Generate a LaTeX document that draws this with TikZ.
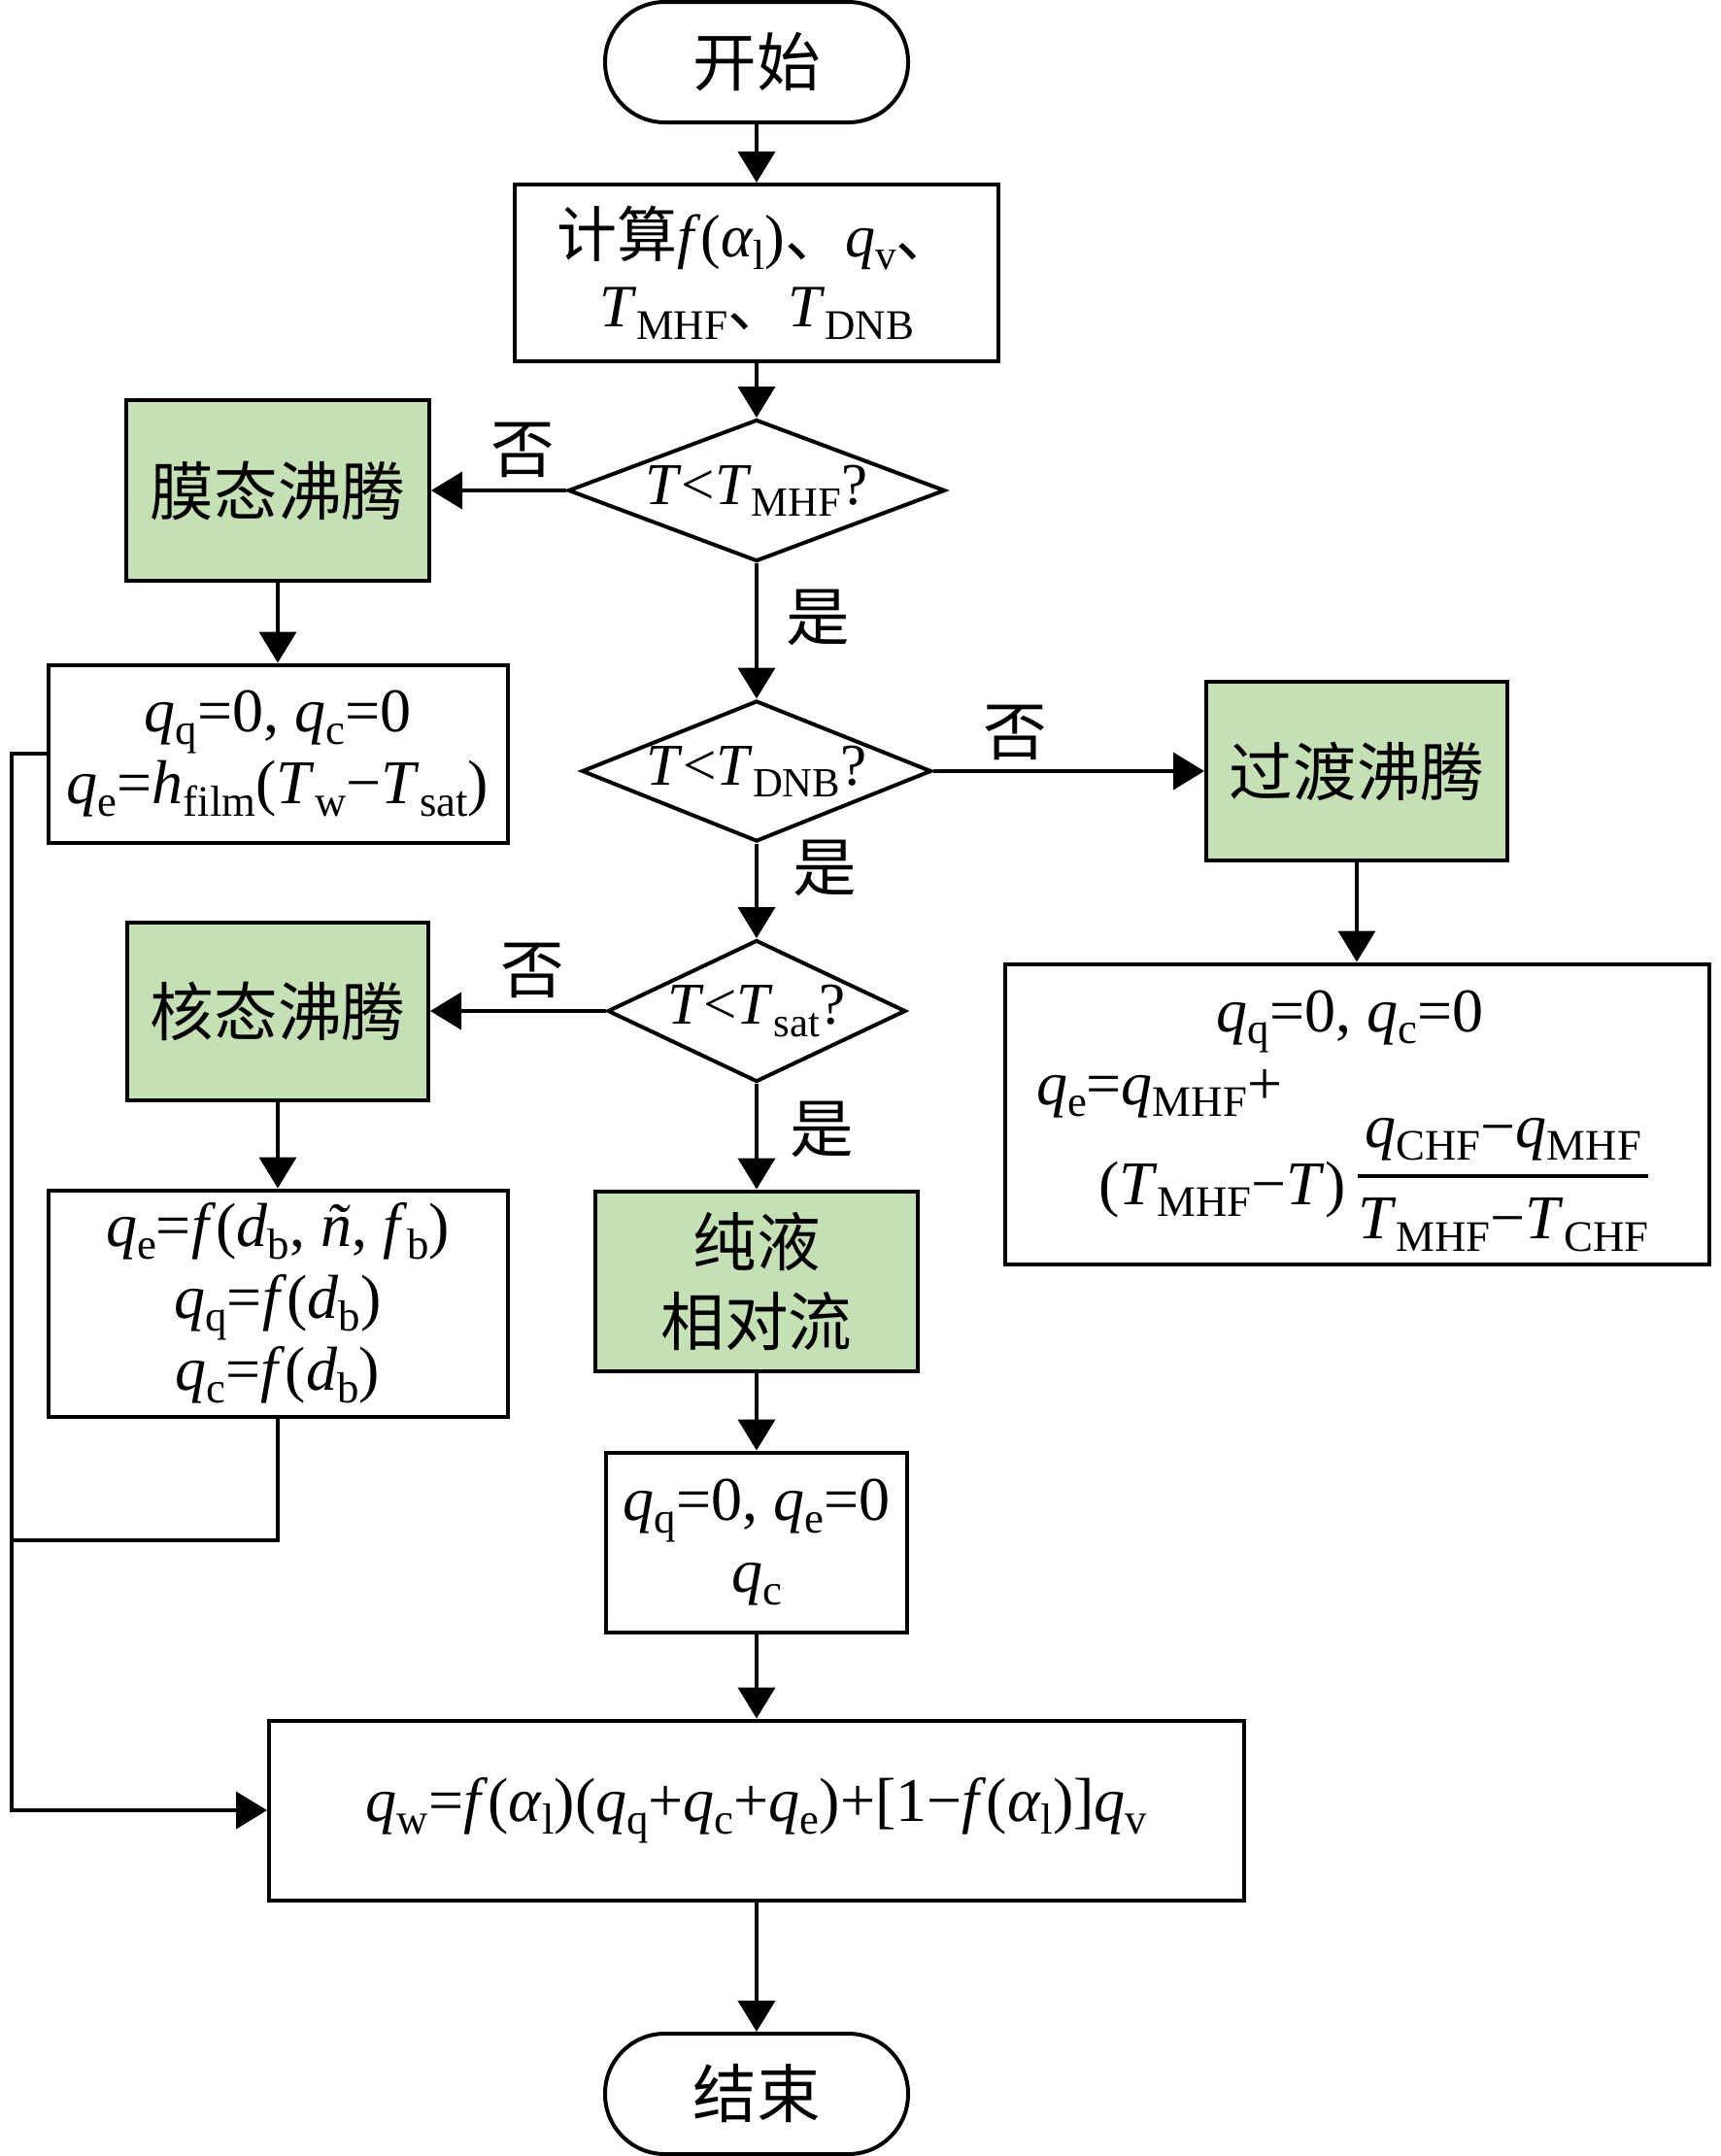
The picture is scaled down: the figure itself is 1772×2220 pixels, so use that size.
\documentclass[tikz,border=0pt]{standalone}
\usepackage{amsmath}
\usepackage{graphicx}
\usepackage{fontspec}
\setmainfont{Liberation Serif}
\newfontfamily\cjk{Noto Sans CJK SC}
\usetikzlibrary{shapes.geometric,arrows.meta}
\definecolor{boilgreen}{HTML}{C5E0B4}
\newcommand\vi[1]{\textit{#1}}
\newcommand\sbs[1]{\raisebox{-0.2em}{\scalebox{0.7}{#1}}}
\begin{document}
\begin{tikzpicture}[x=0.25pt,y=-0.25pt,line width=1pt,
  box/.style={draw,line width=1pt,inner sep=0pt,align=center},
  gbox/.style={box,fill=boilgreen,font=\cjk\fontsize{16.4}{20.5}\selectfont},
  term/.style={draw,line width=1pt,rounded corners=15.4pt,inner sep=0pt,
    minimum width=78pt,minimum height=31pt,font=\cjk\fontsize{16.4}{20}\selectfont},
  dec/.style={diamond,draw,line width=1pt,inner sep=0pt,aspect=1,
    font=\fontsize{15.25}{18}\selectfont},
  eq/.style={font=\fontsize{16}{18.5}\selectfont},
  lab/.style={inner sep=0pt,font=\cjk\fontsize{16.4}{20}\selectfont},
  arr/.style={-{Triangle[length=8pt,width=9.5pt]},line width=1pt}]
\useasboundingbox (0,0) rectangle (1772,2220);
% nodes
\node[term] (start) at (779,64) {开始};
\node[box,minimum width=124.5pt,minimum height=45.5pt,
  font=\fontsize{15.5}{18}\selectfont] (calc) at (779,281)
  {{\cjk 计算}\vi{f}(\vi{α}\sbs{l}){\cjk 、}\vi{q}\sbs{v}{\cjk 、}\\
   \vi{T}\sbs{MHF}{\cjk 、}\vi{T}\sbs{DNB}};
\node[dec,minimum width=97pt,minimum height=36.5pt] (d1) at (779,505)
  {\makebox[0pt]{\vi{T}<\vi{T}\sbs{MHF}?}};
\node[gbox,minimum width=78pt,minimum height=46.5pt] (film) at (286,505) {膜态沸腾};
\node[box,eq,minimum width=118.25pt,minimum height=45.75pt] (filmeq) at (286,776)
  {\vi{q}\sbs{q}=0, \vi{q}\sbs{c}=0\\
   \vi{q}\sbs{e}=\vi{h}\sbs{film}(\vi{T}\sbs{w}−\vi{T}\sbs{sat})};
\node[dec,minimum width=90pt,minimum height=36.25pt] (d2) at (779,794)
  {\makebox[0pt]{\vi{T}<\vi{T}\sbs{DNB}?}};
\node[gbox,minimum width=77.5pt,minimum height=46pt] (trans) at (1397,794) {过渡沸腾};
\node[box,minimum width=181.25pt,minimum height=77.25pt] (transeq) at (1397,1147) {};
\node[eq,inner sep=0pt,anchor=base] (te1) at (1390,1062)
  {\vi{q}\sbs{q}=0, \vi{q}\sbs{c}=0};
\node[eq,inner sep=0pt,anchor=base west] (te2) at (1065,1137)
  {\vi{q}\sbs{e}=\vi{q}\sbs{MHF}+};
\node[eq,inner sep=0pt,anchor=base west] (te3) at (1129,1240)
  {(\vi{T}\sbs{MHF}−\vi{T})\hspace{2pt}\raisebox{3pt}{$\genfrac{}{}{1pt}{0}
   {\hbox{\vi{q}\sbs{CHF}−\vi{q}\sbs{MHF}}}{\hbox{\vi{T}\sbs{MHF}−\vi{T}\sbs{CHF}}}$}};
\node[dec,minimum width=76.75pt,minimum height=36.5pt] (d3) at (779,1041)
  {\makebox[0pt]{\vi{T}<\vi{T}\sbs{sat}?}};
\node[gbox,minimum width=77.5pt,minimum height=45.75pt] (nuc) at (286,1041) {核态沸腾};
\node[box,eq,minimum width=118.25pt,minimum height=58.25pt] (nuceq) at (286,1342)
  {\vi{q}\sbs{e}=\vi{f}(\vi{d}\sbs{b}, \vi{ñ}, \vi{f}\sbs{b})\\
   \vi{q}\sbs{q}=\vi{f}(\vi{d}\sbs{b})\\
   \vi{q}\sbs{c}=\vi{f}(\vi{d}\sbs{b})};
\node[gbox,minimum width=83pt,minimum height=46.25pt] (single) at (779,1319) {纯液\\相对流};
\node[box,eq,minimum width=77.5pt,minimum height=46.25pt] (singeq) at (779,1588)
  {\vi{q}\sbs{q}=0, \vi{q}\sbs{e}=0\\ \vi{q}\sbs{c}};
\node[box,eq,minimum width=251pt,minimum height=46.25pt] (final) at (779,1864)
  {\vi{q}\sbs{w}=\vi{f}(\vi{α}\sbs{l})(\vi{q}\sbs{q}+\vi{q}\sbs{c}+\vi{q}\sbs{e})+[1−\vi{f}(\vi{α}\sbs{l})]\vi{q}\sbs{v}};
\node[term] (end) at (779,2156) {结束};
% labels
\node[lab] (n1) at (538,463) {否};
\node[lab] (y1) at (842,636) {是};
\node[lab] (n2) at (1045,754) {否};
\node[lab] (y2) at (849,894) {是};
\node[lab] (n3) at (548,999) {否};
\node[lab] (y3) at (846,1163) {是};
% connectors
\coordinate (busx) at (12,0);
\coordinate (join) at (286,1586);
\draw[arr] (start) -- (calc);
\draw[arr] (calc) -- (d1);
\draw[arr] (d1) -- (film);
\draw[arr] (d1) -- (d2);
\draw[arr] (film) -- (filmeq);
\draw[arr] (d2) -- (trans);
\draw[arr] (trans) -- (transeq);
\draw[arr] (d2) -- (d3);
\draw[arr] (d3) -- (nuc);
\draw[arr] (nuc) -- (nuceq);
\draw[arr] (d3) -- (single);
\draw[arr] (single) -- (singeq);
\draw[arr] (singeq) -- (final);
\draw[arr] (final) -- (end);
\draw[arr] (filmeq.west) -- (filmeq.west -| busx) -- (final.west -| busx) -- (final.west);
\draw (nuceq.south) -- (join) -- (join -| busx);
\end{tikzpicture}
\end{document}
